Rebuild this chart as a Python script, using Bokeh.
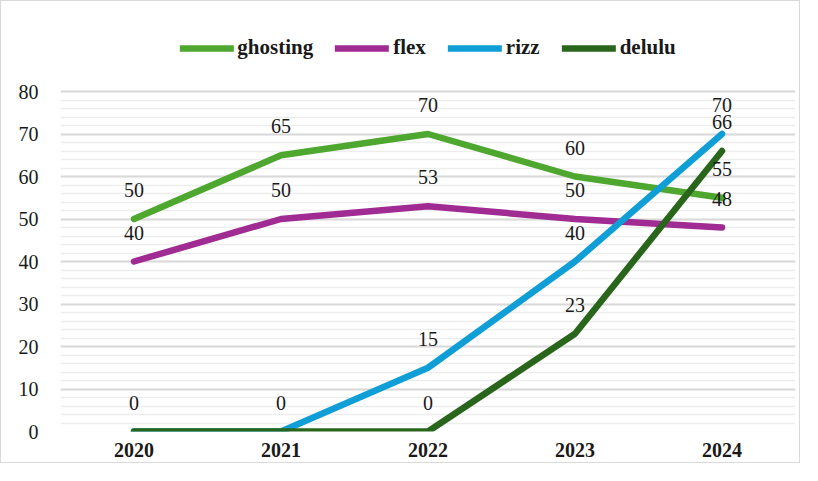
from bokeh.plotting import figure
from bokeh.models import ColumnDataSource, Legend, LegendItem, SingleIntervalTicker, Range1d, FactorRange
from bokeh.core.properties import value
from bokeh.embed import file_html
from bokeh.resources import INLINE

years = ["2020", "2021", "2022", "2023", "2024"]
series_names = ["ghosting", "flex", "rizz", "delulu"]
ghosting = [50, 65, 70, 60, 55]
flex = [40, 50, 53, 50, 48]
rizz = [0, 0, 15, 40, 70]
delulu = [0, 0, 0, 23, 66]
colors = ["#4EA72E", "#A02B93", "#0F9ED5", "#29661C"]
y_min, y_max = 0, 80

W, H = 800, 463
top, bottom, left, right = 20, 33, 59, 6
frame_h = H - top - bottom
plot_h = 340  # pixel height of the 0..80 band
y_end = y_max * frame_h / plot_h

p = figure(x_range=FactorRange(*years), y_range=Range1d(y_min, y_end),
           width=W, height=H,
           min_border_left=left, min_border_right=right, min_border_top=top, min_border_bottom=bottom,
           output_backend="svg", toolbar_location=None,
           styles={"border": "1px solid #d9d9d9"})
p.outline_line_color = None
p.background_fill_color = "white"

p.xgrid.grid_line_color = None
p.ygrid.ticker = SingleIntervalTicker(interval=10, num_minor_ticks=5)
p.yaxis.ticker = SingleIntervalTicker(interval=10, num_minor_ticks=5)
p.ygrid.bounds = (y_min, y_max)
p.yaxis.bounds = (y_min, y_max)
p.ygrid.grid_line_color = "#d9d9d9"
p.ygrid.grid_line_width = 2
p.ygrid.minor_grid_line_color = "#ededed"
p.ygrid.minor_grid_line_width = 1.5

for ax in (p.xaxis, p.yaxis):
    ax.axis_line_color = None
    ax.major_tick_line_color = None
    ax.minor_tick_line_color = None
    ax.major_label_text_font = "Liberation Serif"
    ax.major_label_text_color = "#1a1a1a"
p.yaxis.major_label_text_font_size = "20px"
p.xaxis.major_label_text_font_size = "20px"
p.xaxis.major_label_text_font_style = "bold"
p.xaxis.major_label_standoff = 5
p.yaxis.major_label_standoff = 16

data = [ghosting, flex, rizz, delulu]
items = []
for name, vals, col in zip(series_names, data, colors):
    src = ColumnDataSource(dict(x=years, y=vals))
    r = p.line("x", "y", source=src, line_color=col, line_width=6.5,
               line_join="round", line_cap="round")
    items.append(LegendItem(label=name, renderers=[r]))

# data labels (a label hidden by an identical one of a later series is skipped)
for i, (name, vals) in enumerate(zip(series_names, data)):
    later = data[i + 1:]
    xs, ys, labs = [], [], []
    for j, v in enumerate(vals):
        if any(other[j] == v for other in later):
            continue
        xs.append(years[j]); ys.append(v); labs.append(str(v))
    src = ColumnDataSource(dict(x=xs, y=ys, lab=labs))
    p.text("x", "y", text="lab", source=src, text_font=value("Liberation Serif"),
           text_font_size="20px", text_align="center", text_baseline="middle",
           y_offset=-29, text_color="#1a1a1a")

legend = Legend(items=items, orientation="horizontal", location="top_center",
                glyph_width=54, glyph_height=20, label_standoff=4, spacing=22,
                padding=0, margin=14, border_line_color=None, background_fill_alpha=0,
                label_text_font="Liberation Serif", label_text_font_style="bold",
                label_text_font_size="21px", label_text_color="#1a1a1a")
p.add_layout(legend, "center")

open("out.html", "w").write(file_html(p, INLINE))
